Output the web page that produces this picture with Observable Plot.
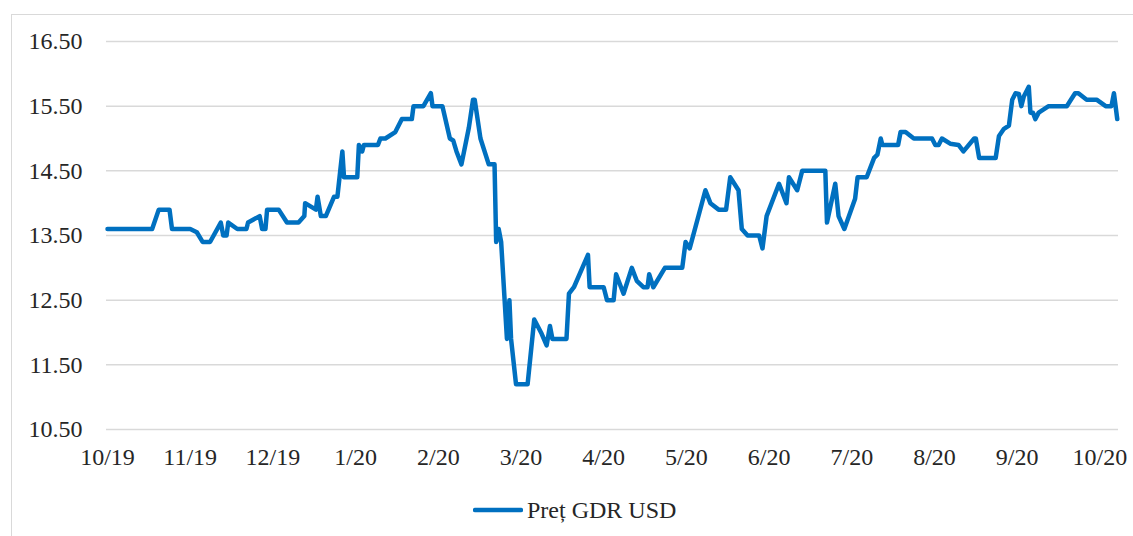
<!DOCTYPE html>
<html>
<head>
<meta charset="utf-8">
<script src="https://cdn.jsdelivr.net/npm/d3@7"></script>
<script src="https://cdn.jsdelivr.net/npm/@observablehq/plot@0.6"></script>
<style>
  html, body { margin: 0; padding: 0; background: #fff; overflow: hidden; }
  #wrap { position: relative; width: 1133px; height: 536px; overflow: hidden; font-family: "Times New Roman", Times, "Liberation Serif", "DejaVu Serif", "Noto Serif", serif; }
  #frame { position: absolute; left: 11px; top: 14px; width: 1300px; height: 700px; border: 1.5px solid #d9d9d9; box-sizing: border-box; }
  #chart { position: absolute; left: 0; top: 0; }
  #legend { position: absolute; left: 473px; top: 494px; height: 32px; display: flex; align-items: center; font-size: 24px; color: #262626; }
  #legend svg { margin-right: 4px; }
  #chart svg, #chart svg text { font-family: "Times New Roman", Times, "Liberation Serif", "DejaVu Serif", "Noto Serif", serif !important; }
</style>
</head>
<body>
<div id="wrap">
  <div id="frame"></div>
  <div id="chart"></div>
  <div id="legend"><svg width="50" height="10"><line x1="2" y1="5" x2="48" y2="5" stroke="#0070C0" stroke-width="4.5" stroke-linecap="round"/></svg><span>Preț GDR USD</span></div>
</div>
<script>
// Month tick labels (one per month, equally spaced on the category axis)
const monthLabels = ["10/19","11/19","12/19","1/20","2/20","3/20","4/20","5/20","6/20","7/20","8/20","9/20","10/20"];
const yTicks = [10.5, 11.5, 12.5, 13.5, 14.5, 15.5, 16.5];

// Position of each vertex along the axis, in months since 10/19
const monthPos = [0,0.54,0.62,0.75,0.78,1.00,1.08,1.15,1.24,1.37,1.40,1.44,1.46,1.57,1.68,1.70,1.84,1.87,1.91,1.93,
  2.07,2.17,2.31,2.38,2.39,2.52,2.54,2.58,2.64,2.74,2.78,2.84,2.86,3.02,3.04,3.08,3.10,3.27,3.30,3.36,
  3.48,3.56,3.68,3.70,3.82,3.91,3.93,4.05,4.14,4.18,4.22,4.28,4.37,4.42,4.44,4.51,4.61,4.68,4.70,4.73,
  4.76,4.83,4.86,4.88,4.94,5.08,5.16,5.25,5.31,5.35,5.38,5.55,5.58,5.64,5.81,5.83,6.00,6.04,6.12,6.15,
  6.24,6.34,6.40,6.48,6.53,6.55,6.60,6.74,6.95,6.99,7.04,7.23,7.29,7.39,7.48,7.53,7.63,7.67,7.74,7.88,
  7.92,7.97,8.12,8.21,8.24,8.34,8.40,8.68,8.70,8.80,8.84,8.91,9.04,9.07,9.18,9.27,9.31,9.35,9.37,9.56,
  9.59,9.65,9.75,9.97,10.01,10.05,10.09,10.19,10.29,10.35,10.48,10.50,10.54,10.74,10.78,10.84,10.90,10.94,10.98,11.02,
  11.05,11.08,11.14,11.16,11.19,11.22,11.26,11.38,11.60,11.64,11.70,11.74,11.84,11.96,12.07,12.14,12.17,12.21];

// GDR price in USD at each vertex
const price = [13.60,13.60,13.90,13.90,13.60,13.60,13.55,13.40,13.40,13.70,13.50,13.50,13.70,13.60,13.60,13.70,13.80,13.60,13.60,13.90,
  13.90,13.70,13.70,13.80,14.00,13.90,14.10,13.80,13.80,14.10,14.10,14.80,14.40,14.40,14.90,14.80,14.90,14.90,15.00,15.00,
  15.10,15.30,15.30,15.50,15.50,15.70,15.50,15.50,15.00,14.97,14.80,14.60,15.17,15.60,15.60,15.00,14.60,14.60,13.40,13.60,
  13.40,11.90,12.50,11.90,11.20,11.20,12.20,11.98,11.80,12.10,11.90,11.90,12.60,12.70,13.20,12.70,12.70,12.50,12.50,12.90,
  12.60,13.00,12.80,12.70,12.70,12.90,12.70,13.00,13.00,13.40,13.30,14.20,14.00,13.90,13.90,14.40,14.20,13.60,13.50,13.50,
  13.30,13.80,14.30,14.00,14.40,14.20,14.50,14.50,13.70,14.30,13.80,13.60,14.07,14.40,14.40,14.70,14.75,15.00,14.90,14.90,
  15.10,15.10,15.00,15.00,14.90,14.90,15.00,14.92,14.90,14.80,15.00,15.00,14.70,14.70,15.04,15.15,15.20,15.60,15.70,15.69,
  15.50,15.65,15.80,15.40,15.40,15.30,15.40,15.50,15.50,15.58,15.70,15.70,15.60,15.60,15.50,15.50,15.70,15.30];

const data = monthPos.map((m, i) => ({m, v: price[i]}));

const W = 1133, H = 480;
const plot = Plot.plot({
  width: W,
  height: H,
  marginLeft: 106,
  marginRight: 15,
  marginTop: 41,
  marginBottom: 51,
  style: {fontFamily: '"Times New Roman", Times, "Liberation Serif", "DejaVu Serif", serif', fontSize: "24px", color: "#262626", background: "transparent"},
  x: {type: "linear", domain: [-0.012, 12.225]},
  y: {domain: [10.5, 16.5]},
  marks: [
    Plot.gridY(yTicks, {stroke: "#d9d9d9", strokeOpacity: 1, strokeWidth: 1.5}),
    Plot.axisY(yTicks, {tickSize: 0, tickPadding: 24, tickFormat: d => d.toFixed(2), label: null, fontSize: 24, fill: "#262626"}),
    Plot.axisX(d3.range(monthLabels.length), {tickSize: 0, tickPadding: 18, tickFormat: i => monthLabels[i], label: null, fontSize: 24, fill: "#262626"}),
    Plot.line(data, {x: "m", y: "v", stroke: "#0070C0", strokeWidth: 4.5, strokeLinejoin: "round", strokeLinecap: "round"})
  ]
});
document.getElementById("chart").appendChild(plot);
</script>
</body>
</html>
